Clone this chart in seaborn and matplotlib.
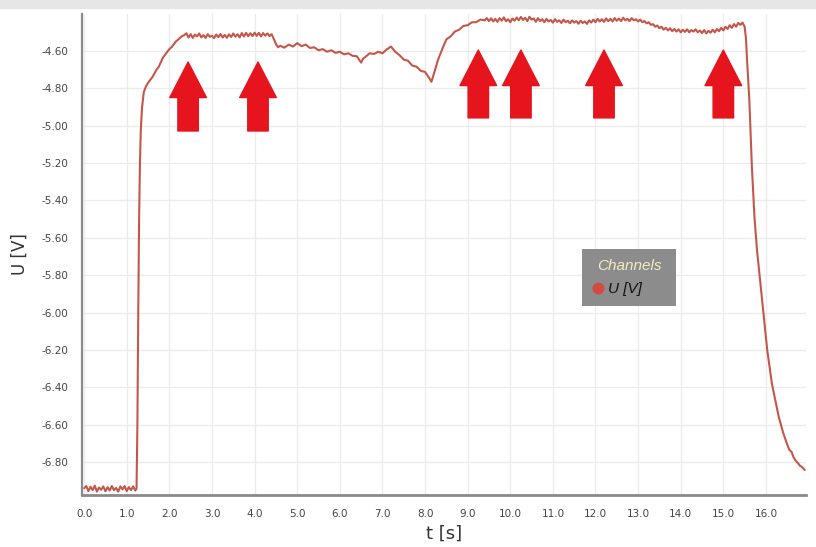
import matplotlib
matplotlib.use("Agg")
import matplotlib.pyplot as plt
import seaborn as sns
import pandas as pd
from matplotlib.lines import Line2D
from matplotlib.patches import Rectangle, FancyArrow

# ---- data (segments of the single U [V] trace) ----
t_baseline = [0.00, 0.05, 0.10, 0.15, 0.20, 0.25, 0.30, 0.35, 0.40, 0.45, 0.50, 0.55, 0.60,
              0.65, 0.70, 0.75, 0.80, 0.85, 0.90, 0.95, 1.00, 1.05, 1.10, 1.15, 1.20, 1.23]
u_baseline = [-6.940, -6.928, -6.955, -6.932, -6.950, -6.926, -6.958, -6.936, -6.948, -6.930,
              -6.956, -6.934, -6.952, -6.928, -6.950, -6.938, -6.958, -6.930, -6.946, -6.928,
              -6.955, -6.934, -6.950, -6.930, -6.952, -6.942]

t_rise = [1.25, 1.27, 1.29, 1.31, 1.33, 1.36, 1.40, 1.45, 1.50, 1.55, 1.60, 1.65, 1.70,
          1.75, 1.80, 1.85, 1.90, 1.95, 2.00, 2.05, 2.10, 2.15, 2.20, 2.25, 2.30, 2.35]
u_rise = [-6.60, -6.00, -5.50, -5.20, -5.02, -4.90, -4.82, -4.79, -4.77, -4.755, -4.74,
          -4.72, -4.70, -4.685, -4.66, -4.635, -4.62, -4.605, -4.59, -4.58, -4.565, -4.55,
          -4.54, -4.53, -4.52, -4.515]

t_plateau1 = [2.40, 2.45, 2.50, 2.55, 2.60, 2.65, 2.70, 2.75, 2.80, 2.85, 2.90, 2.95, 3.00,
              3.05, 3.10, 3.15, 3.20, 3.25, 3.30, 3.35, 3.40, 3.45, 3.50, 3.55, 3.60, 3.65,
              3.70, 3.75, 3.80, 3.85, 3.90, 3.95, 4.00, 4.05, 4.10, 4.15, 4.20, 4.25, 4.30,
              4.35, 4.40]
u_plateau1 = [-4.505, -4.528, -4.510, -4.530, -4.512, -4.522, -4.506, -4.527, -4.515, -4.530,
              -4.510, -4.524, -4.518, -4.531, -4.512, -4.526, -4.509, -4.528, -4.514, -4.529,
              -4.511, -4.525, -4.506, -4.523, -4.510, -4.527, -4.504, -4.522, -4.503, -4.521,
              -4.505, -4.520, -4.502, -4.519, -4.503, -4.522, -4.504, -4.518, -4.506, -4.520,
              -4.510]

t_middle = [4.45, 4.50, 4.55, 4.60, 4.70, 4.80, 4.90, 5.00, 5.10, 5.20, 5.30, 5.40, 5.50,
            5.60, 5.70, 5.80, 5.90, 6.00, 6.10, 6.20, 6.30, 6.40, 6.45, 6.50, 6.55, 6.60,
            6.70, 6.80, 6.90, 7.00, 7.10, 7.20, 7.30, 7.40, 7.50, 7.60, 7.70, 7.80, 7.90,
            8.00, 8.10, 8.15, 8.20, 8.25, 8.30, 8.40, 8.50, 8.60, 8.70, 8.80, 8.90, 9.00,
            9.10, 9.20, 9.30, 9.40]
u_middle = [-4.535, -4.562, -4.580, -4.572, -4.582, -4.566, -4.576, -4.558, -4.574, -4.566,
            -4.584, -4.580, -4.596, -4.590, -4.604, -4.596, -4.610, -4.604, -4.618, -4.612,
            -4.626, -4.628, -4.645, -4.662, -4.640, -4.632, -4.612, -4.616, -4.604, -4.612,
            -4.592, -4.576, -4.604, -4.622, -4.646, -4.652, -4.678, -4.684, -4.706, -4.712,
            -4.745, -4.765, -4.728, -4.690, -4.650, -4.592, -4.538, -4.522, -4.496, -4.486,
            -4.466, -4.462, -4.446, -4.446, -4.432, -4.436]

t_plateau2 = [9.45, 9.50, 9.55, 9.60, 9.65, 9.70, 9.75, 9.80, 9.85, 9.90, 9.95, 10.00,
              10.05, 10.10, 10.15, 10.20, 10.25, 10.30, 10.35, 10.40, 10.45, 10.50, 10.55,
              10.60, 10.65, 10.70, 10.75, 10.80, 10.85, 10.90, 10.95, 11.00, 11.05, 11.10,
              11.15, 11.20, 11.25, 11.30, 11.35, 11.40, 11.45, 11.50, 11.55, 11.60, 11.65,
              11.70, 11.75, 11.80, 11.85, 11.90, 11.95, 12.00, 12.05, 12.10, 12.15, 12.20,
              12.25, 12.30, 12.35, 12.40, 12.45, 12.50, 12.55, 12.60, 12.65, 12.70, 12.75,
              12.80, 12.85, 12.90, 12.95, 13.00, 13.05, 13.10, 13.15, 13.20]
u_plateau2 = [-4.424, -4.440, -4.425, -4.442, -4.428, -4.444, -4.424, -4.438, -4.420, -4.441,
              -4.430, -4.446, -4.426, -4.438, -4.421, -4.436, -4.418, -4.434, -4.422, -4.440,
              -4.417, -4.432, -4.426, -4.444, -4.424, -4.440, -4.430, -4.446, -4.428, -4.442,
              -4.434, -4.448, -4.430, -4.444, -4.436, -4.450, -4.432, -4.446, -4.438, -4.452,
              -4.436, -4.448, -4.440, -4.454, -4.438, -4.450, -4.442, -4.455, -4.436, -4.448,
              -4.432, -4.446, -4.428, -4.442, -4.430, -4.444, -4.426, -4.440, -4.428, -4.442,
              -4.424, -4.438, -4.426, -4.440, -4.422, -4.436, -4.428, -4.440, -4.424, -4.436,
              -4.430, -4.442, -4.432, -4.446, -4.440, -4.452]

t_plateau3 = [13.25, 13.30, 13.35, 13.40, 13.45, 13.50, 13.55, 13.60, 13.65, 13.70, 13.75,
              13.80, 13.85, 13.90, 13.95, 14.00, 14.05, 14.10, 14.15, 14.20, 14.25, 14.30,
              14.35, 14.40, 14.45, 14.50, 14.55, 14.60, 14.65, 14.70, 14.75, 14.80, 14.85,
              14.90, 14.95, 15.00, 15.05, 15.10, 15.15, 15.20, 15.25, 15.30, 15.35, 15.40,
              15.45, 15.50]
u_plateau3 = [-4.446, -4.460, -4.456, -4.470, -4.464, -4.478, -4.470, -4.486, -4.476, -4.490,
              -4.478, -4.494, -4.482, -4.496, -4.484, -4.500, -4.486, -4.498, -4.484, -4.500,
              -4.488, -4.496, -4.484, -4.500, -4.490, -4.504, -4.488, -4.506, -4.492, -4.502,
              -4.486, -4.500, -4.482, -4.494, -4.476, -4.490, -4.470, -4.482, -4.462, -4.476,
              -4.456, -4.470, -4.450, -4.460, -4.448, -4.470]

t_fall = [15.53, 15.56, 15.61, 15.67, 15.73, 15.79, 15.87, 15.95, 16.03, 16.14, 16.22,
          16.30, 16.40, 16.49, 16.55, 16.60, 16.65, 16.69, 16.75, 16.80, 16.84, 16.88, 16.91]
u_fall = [-4.53, -4.66, -4.862, -5.219, -5.487, -5.665, -5.844, -6.022, -6.20, -6.38,
          -6.47, -6.558, -6.64, -6.70, -6.735, -6.745, -6.775, -6.79, -6.805, -6.82, -6.825,
          -6.835, -6.842]

x_ticks = [0.0, 1.0, 2.0, 3.0, 4.0, 5.0, 6.0, 7.0, 8.0, 9.0, 10.0, 11.0, 12.0, 13.0, 14.0,
           15.0, 16.0]
y_ticks = [-6.80, -6.60, -6.40, -6.20, -6.00, -5.80, -5.60, -5.40, -5.20, -5.00, -4.80,
           -4.60]

# red arrow annotations (time position, base value, tip value)
arrow_t = [2.44, 4.08, 9.25, 10.25, 12.2, 15.0]
arrow_base = [-5.028, -5.028, -4.958, -4.958, -4.958, -4.958]
arrow_tip = [-4.659, -4.659, -4.595, -4.595, -4.595, -4.595]

line_color = "#c4574a"
arrow_color = "#e5141d"

t_all = t_baseline + t_rise + t_plateau1 + t_middle + t_plateau2 + t_plateau3 + t_fall
u_all = u_baseline + u_rise + u_plateau1 + u_middle + u_plateau2 + u_plateau3 + u_fall
assert len(t_all) == len(u_all)

sns.set_style("white")
plt.rcParams['font.family'] = ['DejaVu Sans']

fig = plt.figure(figsize=(8.16, 5.47), dpi=100)
ax = fig.add_axes([82/816, 52/547, 724/816, 481/547])

df = pd.DataFrame({"t": t_all, "U": u_all})
sns.lineplot(data=df, x="t", y="U", color=line_color, linewidth=1.5, ax=ax,
             estimator=None, sort=False, legend=False, zorder=3)

ax.set_xlim(-0.05, 16.94)
ax.set_ylim(-6.976, -4.402)
ax.set_xticks(x_ticks)
ax.set_xticklabels([f"{v:.1f}" for v in x_ticks])
ax.set_yticks(y_ticks)
ax.set_yticklabels([f"{v:.2f}" for v in y_ticks])
ax.tick_params(axis='both', length=0, labelsize=7.5, labelcolor='#444444', pad=10)

ax.grid(True, color='#ececec', linewidth=1.0, zorder=0)
ax.set_axisbelow(True)
for side in ['top', 'right']:
    ax.spines[side].set_visible(False)
ax.spines['left'].set_color('#8a8a8a')
ax.spines['left'].set_linewidth(1.6)
ax.spines['bottom'].set_color('#8a8a8a')
ax.spines['bottom'].set_linewidth(2.0)

ax.set_xlabel("t [s]", fontsize=13, color='#333333', labelpad=4)
ax.set_ylabel("U [V]", fontsize=12, color='#333333', labelpad=9)

for xt, yb, ytp in zip(arrow_t, arrow_base, arrow_tip):
    arr = FancyArrow(xt, yb, 0, ytp - yb, width=0.48, head_width=0.86,
                     head_length=0.19, length_includes_head=True,
                     color=arrow_color, zorder=4, linewidth=1.0, joinstyle='round')
    ax.add_patch(arr)

handle = Line2D([], [], marker='o', linestyle='', color='#d34a3f', markersize=7.5,
                label='U [V]')
leg_font = {'family': 'Liberation Sans', 'style': 'italic', 'size': 11}
leg = ax.legend(handles=[handle], title='Channels', loc='upper left',
                bbox_to_anchor=(0.69, 0.393, 0.131, 0.118), mode='expand',
                frameon=True, fancybox=False,
                facecolor='#8c8c8c', edgecolor='#8c8c8c', framealpha=1,
                prop=leg_font, title_fontproperties=leg_font,
                handletextpad=0.3, handlelength=0.8, borderpad=0.65,
                borderaxespad=0, labelspacing=0.6)
leg.get_title().set_color('#f2eec0')
leg.get_frame().set_linewidth(0)
for txt in leg.get_texts():
    txt.set_color('#111111')

fig.add_artist(Rectangle((0, 1 - 8/547), 1, 8/547, transform=fig.transFigure,
                         color='#e6e6e6', zorder=0))

fig.savefig("out.png", dpi=100)
